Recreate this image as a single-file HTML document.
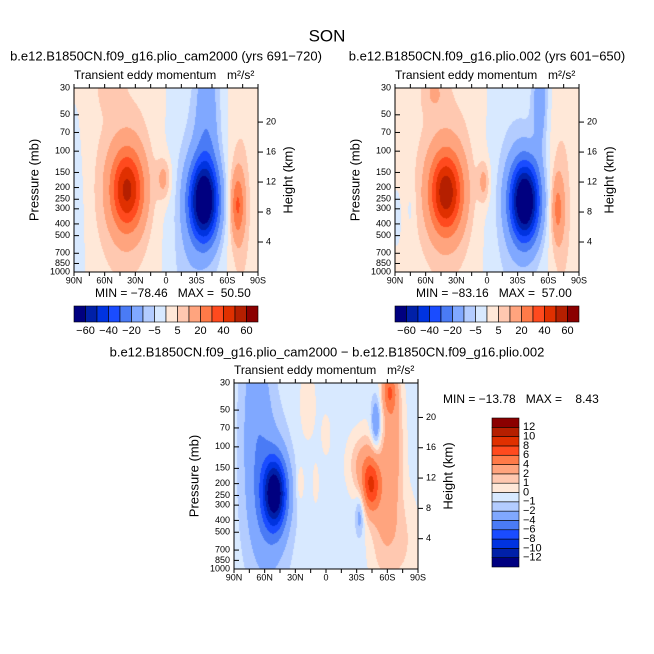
<!DOCTYPE html>
<html><head><meta charset="utf-8">
<style>
body{margin:0;background:#fff;}
#root{position:relative;width:654px;height:654px;overflow:hidden;background:#fff;font-family:"Liberation Sans",sans-serif;}
canvas{position:absolute;}
svg{position:absolute;left:0;top:0;}
text{font-family:"Liberation Sans",sans-serif;fill:#000;white-space:pre;}
</style></head>
<body>
<div id="root">
<canvas id="c1"></canvas>
<canvas id="c2"></canvas>
<canvas id="c3"></canvas>
<svg id="s" width="654" height="654"></svg>
</div>
<script>
// ---- data ----
const topLevels = [-60,-50,-40,-30,-20,-10,-5,0,5,10,20,30,40,50,60];
const topLabels = ["-60","-40","-20","-5","5","20","40","60"];
const diffLevels = [-12,-10,-8,-6,-4,-2,-1,0,1,2,4,6,8,10,12];
const diffLabels = ["12","10","8","6","4","2","1","0","-1","-2","-4","-6","-8","-10","-12"];
const colors = ["#000080","#0020a8","#0033e0","#1a4cff","#4a7bf5","#80a8ff","#b3ccff","#d8e9ff","#ffe8d8","#ffc8b0","#ffa47e","#ff7a48","#ff4a1e","#e03000","#b51f00","#8b0000"];
const pressTicks = [1000,850,700,500,400,300,250,200,150,100,70,50,30];
const heightTicks = [4,8,12,16,20];
const latTicks = [90,60,30,0,-30,-60,-90];
const latLabels = ["90N","60N","30N","0","30S","60S","90S"];

// left panel blobs (lat N+, pressure mb, amplitude, lat width, log-p width)
const leftLat  = [38, 40, 2, 55, -37, -40, -28, -70, -72, 88, -20];
const leftP    = [210,200,170,30, 260, 50, 300, 280, 300, 500, 900];
const leftAmp  = [45, 8, 12, 6, -70, -14, -8, 25, 8, -6, -2];
const leftSLat = [11, 25, 5, 8, 10, 8, 22, 4.5, 9, 6, 10];
const leftSU   = [0.15,0.45,0.08,0.08,0.15,0.35,0.5,0.12,0.4,0.4,0.2];

const rightLat  = [40, 40, 3, 52, -37, -52, -28, -69, -72, 88, 75];
const rightP    = [220,200,180,32, 260, 35, 300, 300, 300, 350, 300];
const rightAmp  = [50, 8, 12, 7, -75, -15, -8, 18, 8, -5, -4];
const rightSLat = [11, 25, 4, 8, 10, 5, 22, 4, 9, 3, 3];
const rightSU   = [0.15,0.45,0.08,0.08,0.15,0.2,0.5,0.12,0.4,0.1,0.1];

const diffLat  = [50, 57, 68, -44, -36, -62, -66, -55, -75, -49, -33, 25, 10, 18, 0];
const diffP    = [240,300,50, 210, 140, 35, 80, 300, 600, 65, 360, 200, 200, 45, 80];
const diffAmp  = [-12,-3,-2.5,6.5, 2.8, 5, 3, 2.5, 1.5, -4, -2.5, 1.5, 1.5, 1.2, 0.9];
const diffSLat = [8, 14, 10, 6, 10, 5, 7, 10, 12, 3.5, 3, 2.5, 2, 6, 4];
const diffSU   = [0.13,0.3,0.35,0.1,0.12,0.08,0.25,0.3,0.2,0.1,0.08,0.07,0.07,0.15,0.1];

// ---- helpers ----
const LOGR = Math.log(1000/30);
function uOf(p){return Math.log(p/30)/LOGR;}
function field(lat,u,L,P,A,SL,SU,bg){
  let v=bg;
  for(let i=0;i<L.length;i++){
    const dl=(lat-L[i])/SL[i], du=(u-uOf(P[i]))/SU[i];
    v+=A[i]*Math.exp(-0.5*(dl*dl+du*du));
  }
  return v;
}
function hex(c){return [parseInt(c.substr(1,2),16),parseInt(c.substr(3,2),16),parseInt(c.substr(5,2),16)];}
const rgb = colors.map(hex);
function drawField(id,x0,y0,w,h,L,P,A,SL,SU,levels,bg){
  const cv=document.getElementById(id);
  cv.width=w;cv.height=h;cv.style.left=x0+'px';cv.style.top=y0+'px';
  const ctx=cv.getContext('2d');
  const img=ctx.createImageData(w,h);
  for(let y=0;y<h;y++){
    const u=(y+0.5)/h;
    for(let x=0;x<w;x++){
      const lat=90-180*(x+0.5)/w;
      const v=field(lat,u,L,P,A,SL,SU,bg);
      let k=0;while(k<levels.length&&v>=levels[k])k++;
      const c=rgb[k];const o=(y*w+x)*4;
      img.data[o]=c[0];img.data[o+1]=c[1];img.data[o+2]=c[2];img.data[o+3]=255;
    }
  }
  ctx.putImageData(img,0,0);
}
const S=document.getElementById('s');
const NS='http://www.w3.org/2000/svg';
function el(tag,attrs,txt){
  const e=document.createElementNS(NS,tag);
  for(const k in attrs)e.setAttribute(k,attrs[k]);
  if(txt!==undefined)e.textContent=txt;
  S.appendChild(e);return e;
}
function txt(x,y,s,size,anchor,name,rot){
  const a={x:x,y:y,'font-size':size,'text-anchor':anchor||'start','dominant-baseline':'middle'};
  if(rot)a.transform='rotate(-90 '+x+' '+y+')';
  const t=el('text',a,s);
  
  
  return t;
}
function panel(prefix,x0,y0,w,h,title,minmax,mmx,mmy){
  const yOf=p=>y0+h*uOf(p);
  const xOf=lat=>x0+w*(90-lat)/180;
  const fr=el('rect',{x:x0,y:y0,width:w,height:h,fill:'none',stroke:'#000','stroke-width':1});
  
  
  if(title){txt(x0+w/2,y0-31,title,13,'middle',prefix+'-title');}
  txt(x0,y0-12,'Transient eddy momentum',12,'start',prefix+'-subtitle');
  txt(x0+w-31,y0-12,'m²/s²',12,'start',prefix+'-units');
  pressTicks.forEach(p=>{
    const y=yOf(p);
    const l=el('line',{x1:x0,x2:x0+5,y1:y,y2:y,stroke:'#000'});
    
    
    txt(x0-4,y,String(p),9,'end',prefix+'-pressure-label');
  });
  heightTicks.forEach(z=>{
    const y=yOf(1000*Math.exp(-z/7));
    const l=el('line',{x1:x0+w,x2:x0+w+5,y1:y,y2:y,stroke:'#000'});
    
    
    txt(x0+w+8,y,String(z),9,'start',prefix+'-height-label');
  });
  for(let lat=90;lat>=-90;lat-=15){
    const x=xOf(lat);
    const l1=el('line',{x1:x,x2:x,y1:y0+h,y2:y0+h+4,stroke:'#000'});
    
    
    const l2=el('line',{x1:x,x2:x,y1:y0,y2:y0-4,stroke:'#000'});
    
    
  }
  latTicks.forEach((lat,i)=>{txt(xOf(lat),y0+h+9,latLabels[i],9,'middle',prefix+'-lat-label');});
  txt(x0-39,y0+h/2,'Pressure (mb)',13,'middle',prefix+'-y-axis-title',true);
  txt(x0+w+31,y0+h/2,'Height (km)',13,'middle',prefix+'-height-axis-title',true);
  if(minmax){const m=el('text',{x:mmx,y:mmy,'font-size':12,'dominant-baseline':'middle'},minmax);
    }
}
function hbar(prefix,x0,y0,w,h){
  const bw=w/colors.length;
  colors.forEach((c,i)=>{
    const r=el('rect',{x:x0+i*bw,y:y0,width:bw,height:h,fill:c,stroke:'#000','stroke-width':0.6});
    
    
  });
  topLabels.forEach((s,j)=>{
    const i=2*j+1; // boundary index 1,3,5..
    txt(x0+i*bw,y0+h+9,s.replace('-','−'),11,'middle',prefix+'-colorbar-label');
  });
}
function vbar(prefix,x0,y0,w,h){
  const bh=h/colors.length;
  colors.forEach((c,i)=>{
    const r=el('rect',{x:x0,y:y0+(colors.length-1-i)*bh,width:w,height:bh,fill:c,stroke:'#000','stroke-width':0.6});
    
    
  });
  diffLabels.forEach((s,i)=>{
    txt(x0+w+4,y0+(i+1)*bh,s.replace('-','−'),11,'start','diff-colorbar-label');
  });
}

drawField('c1',74,88,184,184,leftLat,leftP,leftAmp,leftSLat,leftSU,topLevels,0.5);
drawField('c2',395,88,184,184,rightLat,rightP,rightAmp,rightSLat,rightSU,topLevels,0.5);
drawField('c3',234,383,184,186,diffLat,diffP,diffAmp,diffSLat,diffSU,diffLevels,-0.5);

txt(327,37,'SON',17,'middle','figure-title');
panel('left',74,88,184,184,'b.e12.B1850CN.f09_g16.plio_cam2000 (yrs 691−720)','MIN = −78.46   MAX =  50.50',95,294);
panel('right',395,88,184,184,'b.e12.B1850CN.f09_g16.plio.002 (yrs 601−650)','MIN = −83.16   MAX =  57.00',416,294);
panel('diff',234,383,184,186,null,null,0,0);
txt(327,353,'b.e12.B1850CN.f09_g16.plio_cam2000 − b.e12.B1850CN.f09_g16.plio.002',13,'middle','diff-title');
const mm=el('text',{x:443,y:400,'font-size':12,'dominant-baseline':'middle'},'MIN = −13.78   MAX =    8.43');


hbar('left',74,306,184,16);
hbar('right',395,306,184,16);
vbar('diff',492,418,27,149);
</script>
</body></html>
